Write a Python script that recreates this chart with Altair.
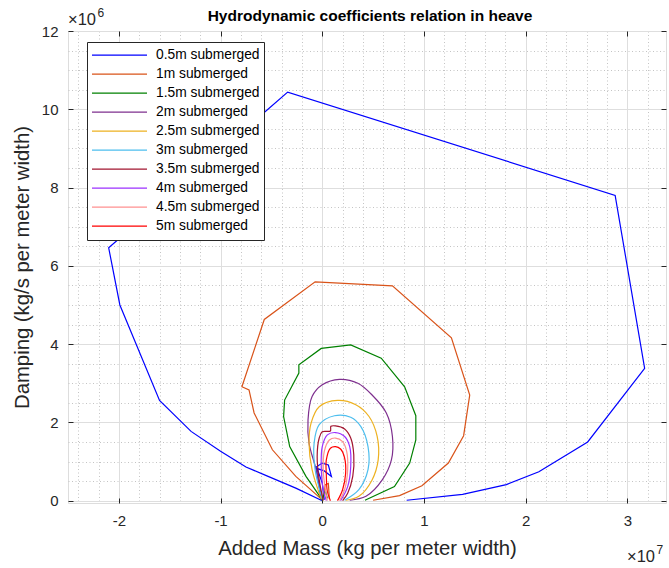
import altair as alt
import pandas as pd

# ---- data (x in 1e7 kg/m, y in 1e6 kg/s/m) ----
SERIES = ["0.5m submerged", "1m submerged", "1.5m submerged", "2m submerged",
          "2.5m submerged", "3m submerged", "3.5m submerged", "4m submerged",
          "4.5m submerged", "5m submerged"]
COLORS = ["#0000FF", "#D95319", "#008000", "#7E2F8E", "#EDB120",
          "#4DBEEE", "#A2142F", "#9B30FF", "#FF9090", "#FF0000"]

x_05 = [0.83, 1.38, 1.81, 2.13, 2.61, 3.17, 2.88, -0.34, -2.10, -1.99, -1.60, -1.29,
        -1.00, -0.75, -0.55, -0.26, -0.01, -0.06, 0.00, 0.06, 0.09, 0.02, -0.05, 0.00, 0.02]
y_05 = [0.01, 0.16, 0.41, 0.74, 1.50, 3.38, 7.80, 10.44, 6.46, 5.00, 2.56, 1.77,
        1.26, 0.86, 0.64, 0.32, 0.01, 0.86, 0.96, 0.91, 0.62, 0.76, 0.82, 0.45, 0.02]

x_10 = [0.50, 0.76, 0.98, 1.24, 1.39, 1.45, 1.27, 0.69, -0.07, -0.57, -0.79, -0.72,
        -0.67, -0.49, -0.26, 0.00, 0.03, 0.06, 0.07]
y_10 = [0.01, 0.13, 0.38, 0.96, 1.66, 2.70, 4.16, 5.49, 5.59, 4.63, 2.91, 2.83,
        2.24, 1.30, 0.62, 0.02, 0.41, 0.44, 0.04]

x_15 = [0.42, 0.71, 0.86, 0.92, 0.92, 0.81, 0.58, 0.28, -0.01, -0.23, -0.23, -0.37,
        -0.38, -0.32, -0.16, 0.00, 0.03, 0.05]
y_15 = [0.01, 0.36, 0.96, 1.55, 2.17, 2.91, 3.64, 3.98, 3.89, 3.47, 3.26, 2.57,
        2.15, 1.38, 0.62, 0.02, 0.26, 0.06]

x_20 = [0.27, 0.43, 0.59, 0.68, 0.69, 0.63, 0.49, 0.35, 0.17, 0.00, -0.10, -0.14,
        -0.13, -0.06, 0.00]
y_20 = [0.01, 0.11, 0.53, 1.04, 1.64, 2.24, 2.70, 3.00, 3.10, 2.96, 2.66, 2.06,
        1.47, 0.79, 0.02]

x_25 = [0.23, 0.36, 0.49, 0.55, 0.54, 0.46, 0.33, 0.15, -0.03, -0.11, -0.13, -0.10, -0.01]
y_25 = [0.01, 0.11, 0.53, 1.04, 1.64, 2.15, 2.45, 2.56, 2.40, 1.98, 1.47, 0.79, 0.04]

x_30 = [0.22, 0.36, 0.45, 0.45, 0.38, 0.28, 0.12, -0.03, -0.08, -0.07, 0.00]
y_30 = [0.01, 0.28, 0.79, 1.38, 1.89, 2.13, 2.17, 1.94, 1.47, 0.79, 0.04]

x_35 = [0.20, 0.25, 0.30, 0.31, 0.28, 0.22, 0.13, 0.085, 0.08, 0.00, -0.03, -0.05, -0.03, 0.01]
y_35 = [0.00, 0.19, 0.62, 1.17, 1.60, 1.83, 1.91, 1.90, 1.78, 1.76, 1.60, 1.13, 0.53, 0.00]

x_40 = [0.18, 0.25, 0.28, 0.27, 0.22, 0.13, 0.05, 0.00, -0.01, 0.01, 0.04]
y_40 = [0.00, 0.36, 0.87, 1.38, 1.64, 1.74, 1.68, 1.38, 0.87, 0.28, 0.00]

x_45 = [0.17, 0.22, 0.25, 0.24, 0.20, 0.13, 0.07, 0.02, 0.01, 0.03, 0.05]
y_45 = [0.00, 0.28, 0.79, 1.26, 1.51, 1.60, 1.55, 1.26, 0.79, 0.28, 0.00]

x_50 = [0.15, 0.20, 0.23, 0.22, 0.18, 0.13, 0.08, 0.04, 0.04, 0.05, 0.08]
y_50 = [0.00, 0.28, 0.70, 1.09, 1.32, 1.38, 1.34, 1.04, 0.66, 0.24, 0.00]

X_VALUES = [x_05, x_10, x_15, x_20, x_25, x_30, x_35, x_40, x_45, x_50]
Y_VALUES = [y_05, y_10, y_15, y_20, y_25, y_30, y_35, y_40, y_45, y_50]

X_MAJOR = [-2, -1, 0, 1, 2, 3]
Y_MAJOR = [0, 2, 4, 6, 8, 10, 12]
X_MINOR = [round(-2.4 + 0.2 * k, 1) for k in range(30)]
Y_MINOR = [round(0.5 * k, 1) for k in range(25)]

TITLE = "Hydrodynamic coefficients relation in heave"

POLY = SERIES[:3]
SMOOTH = SERIES[3:]

rows = []
for name, xs_, ys_ in zip(SERIES, X_VALUES, Y_VALUES):
    for i, (xv, yv) in enumerate(zip(xs_, ys_)):
        rows.append({"series": name, "i": i, "am": xv, "damp": yv})
df = pd.DataFrame(rows)

FONT = "Liberation Sans"
INK = "#262626"

xs = alt.Scale(domain=[-2.5, 3.38], nice=False, zero=False)
ys = alt.Scale(domain=[-0.06, 12], nice=False, zero=False)

legend = alt.Legend(
    title=None, orient="none", legendX=19, legendY=11,
    symbolType="stroke", symbolSize=3025, symbolStrokeWidth=1.2,
    labelFontSize=13.8, labelFont=FONT, labelColor="#000000",
    labelOffset=8, clipHeight=18.3, rowPadding=0, padding=4,
    fillColor="#FFFFFF", strokeColor=INK, labelLimit=300,
)
color = alt.Color("series:N", scale=alt.Scale(domain=SERIES, range=COLORS),
                  legend=legend)

base = alt.Chart(df)

minor_grid = base.mark_point(opacity=0).encode(
    x=alt.X("am:Q", scale=xs, axis=alt.Axis(orient="bottom", values=X_MINOR, grid=True,
            gridDash=[1, 2.5], gridColor="#c4c4c4", gridWidth=1, ticks=False,
            labels=False, domain=False, title=None)),
    y=alt.Y("damp:Q", scale=ys, axis=alt.Axis(orient="left", values=Y_MINOR, grid=True,
            gridDash=[1, 2.5], gridColor="#c4c4c4", gridWidth=1, ticks=False,
            labels=False, domain=False, title=None)),
)

major_grid = base.mark_point(opacity=0).encode(
    x=alt.X("am:Q", scale=xs, axis=alt.Axis(orient="bottom", values=X_MAJOR, grid=True,
            gridColor="#dedede", gridWidth=1, ticks=False, labels=False,
            domain=False, title=None)),
    y=alt.Y("damp:Q", scale=ys, axis=alt.Axis(orient="left", values=Y_MAJOR, grid=True,
            gridColor="#dedede", gridWidth=1, ticks=False, labels=False,
            domain=False, title=None)),
)

lines_poly = base.transform_filter(
    alt.FieldOneOfPredicate(field="series", oneOf=POLY)
).mark_line(strokeWidth=1.2, clip=True).encode(
    x=alt.X("am:Q", scale=xs, axis=alt.Axis(
        orient="bottom", values=X_MAJOR, grid=False, domain=False, ticks=True,
        tickSize=5, tickColor=INK, offset=-5, labelPadding=10, labelFontSize=15,
        labelExpr="toString(datum.value)",
        labelFont=FONT, labelColor=INK, title="Added Mass (kg per meter width)",
        titleFont=FONT, titleFontSize=20.3, titleFontWeight="normal", titleColor=INK,
        titlePadding=10)),
    y=alt.Y("damp:Q", scale=ys, axis=alt.Axis(
        orient="left", values=Y_MAJOR, grid=False, domain=False, ticks=True,
        tickSize=5, tickColor=INK, offset=-5, labelPadding=10, labelFontSize=15,
        labelExpr="toString(datum.value)",
        labelFont=FONT, labelColor=INK, title="Damping (kg/s per meter width)",
        titleFont=FONT, titleFontSize=20.3, titleFontWeight="normal", titleColor=INK,
        titlePadding=9)),
    color=color,
    order=alt.Order("i:Q"),
)

lines_smooth = base.transform_filter(
    alt.FieldOneOfPredicate(field="series", oneOf=SMOOTH)
).mark_line(strokeWidth=1.2, clip=True, interpolate="catmull-rom").encode(
    x=alt.X("am:Q", scale=xs, axis=None),
    y=alt.Y("damp:Q", scale=ys, axis=None),
    color=color,
    order=alt.Order("i:Q"),
)

tr_ticks = base.mark_point(opacity=0).encode(
    x=alt.X("am:Q", scale=xs, axis=alt.Axis(orient="top", values=X_MAJOR, grid=False,
            domain=False, ticks=True, tickSize=5, tickColor=INK, offset=-5,
            labels=False, title=None)),
    y=alt.Y("damp:Q", scale=ys, axis=alt.Axis(orient="right", values=Y_MAJOR, grid=False,
            domain=False, ticks=True, tickSize=5, tickColor=INK, offset=-5,
            labels=False, title=None)),
)

one = pd.DataFrame({"k": [0]})
def label(txt, x, y, size, weight="normal", align="left", col=INK):
    return alt.Chart(one).mark_text(text=txt, font=FONT, fontSize=size, color=col,
                                    fontWeight=weight, align=align,
                                    baseline="alphabetic").encode(
        x=alt.value(x), y=alt.value(y))

title_txt = label(TITLE, 302, -10, 15.5, weight="bold", align="center", col="#000000")
exp_y1 = label("×10", 0, -6, 16.5)
exp_y2 = label("6", 29.5, -14, 12)
exp_x1 = label("×10", 559, 531, 16.5)
exp_x2 = label("7", 588.5, 523, 12)

chart = alt.layer(
    minor_grid, major_grid, lines_poly, lines_smooth, tr_ticks,
    title_txt, exp_y1, exp_y2, exp_x1, exp_x2,
).resolve_axis(x="independent", y="independent").properties(
    width=598, height=472,
    autosize=alt.AutoSizeParams(type="none"),
    padding={"left": 68, "top": 31, "right": 3, "bottom": 65},
).configure_view(stroke=INK, strokeWidth=1, fill="#FFFFFF").configure(
    background="#FFFFFF", font=FONT)

chart.save("out.html", embed_options={"renderer": "svg", "actions": False})
